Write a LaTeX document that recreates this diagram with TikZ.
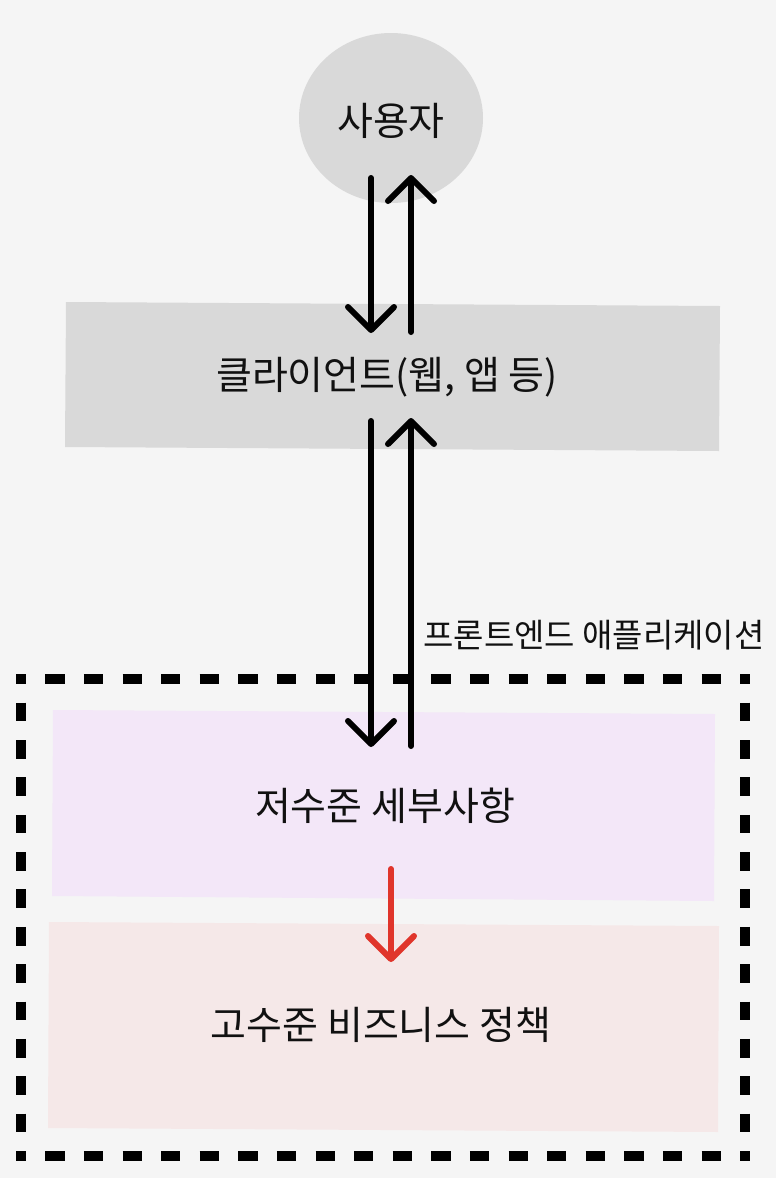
\documentclass[tikz,border=0pt]{standalone}
\usepackage{fontspec}
\setmainfont{Noto Sans CJK KR}
\usetikzlibrary{arrows.meta}
\definecolor{bg}{HTML}{F5F5F5}
\definecolor{boxgray}{HTML}{D9D9D9}
\definecolor{lowc}{HTML}{F3E7F8}
\definecolor{highc}{HTML}{F5E8E8}
\definecolor{ink}{HTML}{111111}
\definecolor{redc}{HTML}{E0352B}
\tikzset{
  lbl/.style={font=\fontsize{39}{46}\selectfont, text=ink, inner sep=0pt},
  smalllbl/.style={font=\fontsize{33}{40}\selectfont, text=ink, inner sep=0pt},
  arr/.style={line width=6pt, draw=black, line cap=round,
    -{Straight Barb[length=23pt, width=46pt, line cap=round, line join=round]}},
  redarr/.style={arr, draw=redc},
  hdash/.style={line width=10pt, draw=black, dash pattern=on 19.3pt off 19.3pt, dash phase=9.3pt},
  vdash/.style={line width=10pt, draw=black, dash pattern=on 18.68pt off 18.68pt, dash phase=8.68pt},
}
\begin{document}
\begin{tikzpicture}[x=1pt, y=-1pt]
\path[use as bounding box, fill=bg] (0,0) rectangle (776,1178);
% shapes
\fill[boxgray] (391,118) ellipse [x radius=92, y radius=85];
\fill[boxgray] (66,302) -- (720,306) -- (719,451) -- (65,447) -- cycle;
\fill[lowc] (53,710) -- (715,714) -- (714,901) -- (52,896) -- cycle;
\fill[highc] (49,922) -- (719,926) -- (718,1132) -- (48,1128) -- cycle;
% nodes
\node[lbl] (user) at (391,121) {사용자};
\node[lbl] (client) at (387,377) {클라이언트(웹, 앱 등)};
\node[lbl] (low) at (385,806) {저수준 세부사항};
\node[lbl] (high) at (381,1025) {고수준 비즈니스 정책};
\node[smalllbl] (fe) at (594,635) {프론트엔드 애플리케이션};
% dashed frame
\coordinate (fTL) at (16,679);
\coordinate (fTR) at (750,679);
\coordinate (fBL) at (16,1156);
\coordinate (fBR) at (750,1156);
\draw[hdash] (fTL) -- (fTR);
\draw[hdash] (fBL) -- (fBR);
\draw[vdash] (21,674) -- (21,1161);
\draw[vdash] (745,674) -- (745,1161);
% connector anchors
\coordinate (u1) at (371,178);
\coordinate (c1) at (371,333);
\coordinate (c2) at (411,332);
\coordinate (u2) at (411,175);
\coordinate (c3) at (371,421);
\coordinate (l1) at (371,747);
\coordinate (l2) at (411,746);
\coordinate (c4) at (411,418);
\coordinate (l3) at (391,869);
\coordinate (h1) at (391,962);
\draw[arr] (u1) -- (c1);
\draw[arr] (c2) -- (u2);
\draw[arr] (c3) -- (l1);
\draw[arr] (l2) -- (c4);
\draw[redarr] (l3) -- (h1);
\end{tikzpicture}
\end{document}
